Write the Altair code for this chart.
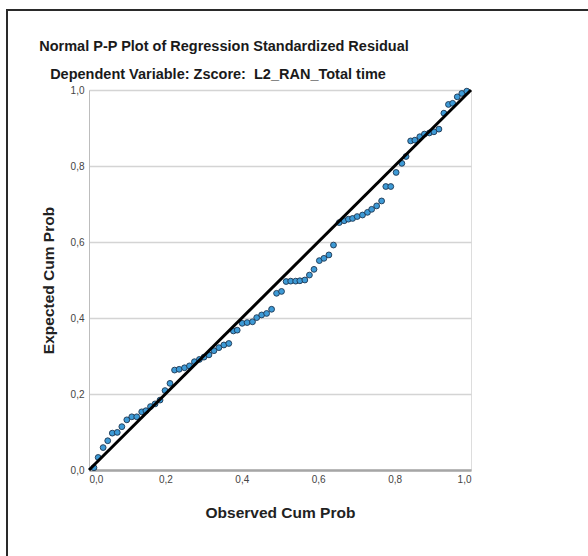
import altair as alt
import pandas as pd

observed = [0.013, 0.024, 0.037, 0.049, 0.061, 0.074, 0.086, 0.099, 0.112, 0.125,
            0.138, 0.149, 0.161, 0.173, 0.186, 0.199, 0.212, 0.224, 0.236, 0.250,
            0.263, 0.276, 0.289, 0.301, 0.314, 0.327, 0.340, 0.353, 0.366, 0.378,
            0.388, 0.401, 0.414, 0.428, 0.439, 0.452, 0.465, 0.478, 0.491, 0.504,
            0.516, 0.528, 0.541, 0.552, 0.565, 0.577, 0.589, 0.603, 0.615, 0.628,
            0.640, 0.655, 0.668, 0.679, 0.690, 0.702, 0.716, 0.729, 0.740, 0.753,
            0.766, 0.777, 0.790, 0.804, 0.819, 0.830, 0.842, 0.853, 0.866, 0.878,
            0.891, 0.903, 0.916, 0.929, 0.941, 0.952, 0.964, 0.976, 0.989]
expected = [0.006, 0.033, 0.059, 0.077, 0.097, 0.099, 0.114, 0.132, 0.140, 0.140,
            0.153, 0.156, 0.167, 0.174, 0.184, 0.209, 0.228, 0.263, 0.265, 0.269,
            0.274, 0.285, 0.291, 0.297, 0.303, 0.314, 0.322, 0.329, 0.333, 0.366,
            0.368, 0.386, 0.388, 0.390, 0.401, 0.408, 0.412, 0.423, 0.465, 0.470,
            0.496, 0.497, 0.497, 0.498, 0.500, 0.513, 0.528, 0.551, 0.557, 0.566,
            0.592, 0.651, 0.656, 0.660, 0.662, 0.667, 0.671, 0.678, 0.686, 0.695,
            0.708, 0.746, 0.746, 0.783, 0.807, 0.825, 0.866, 0.868, 0.877, 0.884,
            0.887, 0.890, 0.897, 0.939, 0.962, 0.965, 0.982, 0.991, 0.997]

ref_x = [0.0, 1.0]
ref_y = [0.0, 1.0]
tick_values = [0.0, 0.2, 0.4, 0.6, 0.8, 1.0]
title_text = "Normal P-P Plot of Regression Standardized Residual"
subtitle_text = "Dependent Variable: Zscore:\u00a0 L2_RAN_Total time"

pts = pd.DataFrame({"obs": observed, "exp": expected})
ref = pd.DataFrame({"obs": ref_x, "exp": ref_y})
one = pd.DataFrame({"t": [title_text], "s": [subtitle_text]})

FONT = "Liberation Sans"
label_expr = "replace(format(datum.value, '.1f'), '.', ',')"

xscale = alt.Scale(domain=[0, 1], nice=False, zero=False)
yscale = alt.Scale(domain=[0, 1], nice=False, zero=False)

xaxis = alt.Axis(values=tick_values, labelExpr=label_expr, grid=False, ticks=False,
                 domainColor="#a6a6a6", domainWidth=2.5, labelFontSize=10,
                 labelColor="#444444", labelPadding=4, title="Observed Cum Prob",
                 titleFontSize=15.5, titleFont=FONT, titleFontWeight="bold",
                 titleColor="#222222", titlePadding=21, labelFont=FONT)
yaxis = alt.Axis(values=tick_values, labelExpr=label_expr, grid=True, gridColor="#d4d4d4",
                 gridWidth=1.5, ticks=False, domainColor="#bdbdbd", domainWidth=1,
                 labelFontSize=10, labelColor="#444444", labelPadding=5,
                 title="Expected Cum Prob", titleFontSize=15.5, titleFont=FONT,
                 titleFontWeight="bold", titleColor="#222222", titlePadding=14,
                 labelFont=FONT)

points = alt.Chart(pts).mark_point(
    filled=True, shape="circle", size=34, fill="#3d9ad6", stroke="#1d3550",
    strokeWidth=0.9, opacity=1, fillOpacity=1
).encode(
    x=alt.X("obs:Q", scale=xscale, axis=xaxis),
    y=alt.Y("exp:Q", scale=yscale, axis=yaxis),
)

line = alt.Chart(ref).mark_line(color="#000000", strokeWidth=3, clip=False).encode(
    x=alt.X("obs:Q", scale=xscale),
    y=alt.Y("exp:Q", scale=yscale),
)

frame_top = alt.Chart(ref).mark_rule(color="#2a2a2a", strokeWidth=2).encode(
    x=alt.value(-82), x2=alt.value(520), y=alt.value(-80)
)
frame_left = alt.Chart(ref).mark_rule(color="#2a2a2a", strokeWidth=2).encode(
    x=alt.value(-82), y=alt.value(-81), y2=alt.value(480)
)

title_mark = alt.Chart(one).mark_text(
    font=FONT, fontSize=14.5, fontWeight="bold", color="#1a1a1a",
    align="center", baseline="middle"
).encode(text="t:N", x=alt.value(135), y=alt.value(-43))

subtitle_mark = alt.Chart(one).mark_text(
    font=FONT, fontSize=14.5, fontWeight="bold", color="#1a1a1a",
    align="center", baseline="middle"
).encode(text="s:N", x=alt.value(129), y=alt.value(-15))

chart = alt.layer(frame_top, frame_left, title_mark, subtitle_mark, points, line).properties(
    width=382,
    height=380,
    autosize=alt.AutoSizeParams(type="none"),
    padding={"left": 89, "top": 90, "right": 117, "bottom": 86},
).configure_view(stroke=None).configure(background="white")

chart.save("out.html", embed_options={"renderer": "svg", "actions": False})
